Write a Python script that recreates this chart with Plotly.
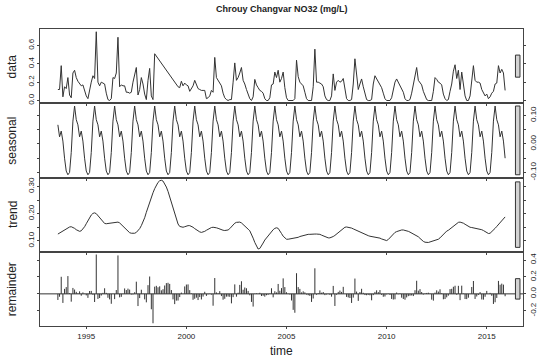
import plotly.graph_objects as go

# ---------------- data (monthly, Aug 1993 .. Dec 2015) ----------------
start_year = 1993
start_month = 8

no3 = [
    0.12, 0.12, 0.38, 0.04, 0.15,
    0.13, 0.25, 0.06, 0.03, 0.30, 0.33, 0.25, 0.21, 0.19, 0.16, 0.17, 0.10,
    0.05, 0.02, 0.12, 0.20, 0.27, 0.24, 0.75, 0.20, 0.16, 0.20, 0.19, 0.18,
    0.08, 0.01, 0.00, 0.02, 0.25, 0.24, 0.30, 0.69, 0.15, 0.17, 0.16, 0.16,
    0.09, 0.09, 0.08, 0.09, 0.20, 0.28, 0.36, 0.06, 0.12, 0.25, 0.18, 0.07,
    0.01, 0.22, 0.35, 0.05, 0.01, 0.51, 0.485, 0.46, 0.435, 0.41, 0.385, 0.36,
    0.33, 0.305, 0.28, 0.255, 0.23, 0.205, 0.18, 0.15, 0.14, 0.21, 0.16, 0.19,
    0.17, 0.16, 0.10, 0.13, 0.16, 0.22, 0.18, 0.13, 0.12, 0.11, 0.11, 0.11,
    0.02, 0.03, 0.05, 0.11, 0.09, 0.47, 0.25, 0.22, 0.20, 0.16, 0.08, 0.03,
    0.01, 0.00, 0.01, 0.01, 0.20, 0.41, 0.22, 0.25, 0.30, 0.36, 0.22, 0.18,
    0.12, 0.07, 0.02, 0.00, 0.04, 0.23, 0.17, 0.14, 0.11, 0.10, 0.08, 0.02,
    0.00, 0.00, 0.03, 0.17, 0.18, 0.31, 0.25, 0.33, 0.20, 0.24, 0.31, 0.14,
    0.03, 0.00, 0.00, 0.00, 0.00, 0.02, 0.44, 0.26, 0.20, 0.18, 0.16, 0.09,
    0.02, 0.00, 0.00, 0.00, 0.15, 0.56, 0.20, 0.20, 0.19, 0.18, 0.15, 0.05,
    0.01, 0.00, 0.00, 0.05, 0.29, 0.11, 0.20, 0.22, 0.20, 0.21, 0.24, 0.10,
    0.02, 0.00, 0.00, 0.01, 0.18, 0.455, 0.25, 0.12, 0.18, 0.235, 0.15, 0.06,
    0.01, 0.00, 0.00, 0.01, 0.18, 0.27, 0.24, 0.20, 0.18, 0.14, 0.08, 0.02,
    0.00, 0.00, 0.00, 0.03, 0.14, 0.20, 0.235, 0.20, 0.17, 0.14, 0.09, 0.02,
    0.00, 0.00, 0.01, 0.08, 0.18, 0.30, 0.36, 0.22, 0.19, 0.17, 0.10, 0.05,
    0.01, 0.00, 0.00, 0.00, 0.10, 0.25, 0.23, 0.20, 0.19, 0.17, 0.07, 0.02,
    0.00, 0.01, 0.10, 0.18, 0.32, 0.39, 0.24, 0.33, 0.12, 0.31, 0.18, 0.05,
    0.00, 0.00, 0.05, 0.20, 0.38, 0.22, 0.20, 0.20, 0.19, 0.12, 0.08, 0.05,
    0.07, 0.02, 0.04, 0.08, 0.10, 0.18, 0.19, 0.38, 0.30, 0.34, 0.30, 0.11,
]

trend = [
    0.125, 0.129, 0.133, 0.137, 0.141, 0.145, 0.148, 0.151, 0.152,
    0.150, 0.146, 0.141, 0.137, 0.135,
    0.137, 0.143, 0.152, 0.163, 0.175, 0.186, 0.195, 0.201, 0.203,
    0.200, 0.193, 0.184, 0.175, 0.168, 0.164, 0.163,
    0.164, 0.165, 0.167, 0.168, 0.169, 0.170, 0.169,
    0.166, 0.160, 0.153, 0.146, 0.140, 0.136,
    0.130, 0.128, 0.127, 0.128,
    0.131, 0.137, 0.145, 0.156, 0.168,
    0.185, 0.205, 0.225, 0.245, 0.262, 0.277,
    0.292, 0.305, 0.315, 0.321, 0.323,
    0.320, 0.311, 0.298, 0.282, 0.262,
    0.240, 0.215, 0.193, 0.175, 0.162, 0.153, 0.150,
    0.150, 0.152, 0.155, 0.156, 0.156,
    0.154, 0.150, 0.145, 0.140, 0.136, 0.133, 0.131,
    0.132, 0.135, 0.139, 0.143, 0.147, 0.149, 0.150,
    0.150, 0.148, 0.146, 0.143, 0.141, 0.139, 0.138, 0.138,
    0.140, 0.145, 0.152, 0.159, 0.165, 0.168, 0.169, 0.169,
    0.166, 0.161, 0.155, 0.149, 0.143, 0.137,
    0.125, 0.110, 0.094, 0.079, 0.070,
    0.072, 0.080, 0.092, 0.103, 0.111, 0.118,
    0.126, 0.134, 0.141, 0.146, 0.148, 0.146,
    0.138, 0.127, 0.117, 0.110, 0.106, 0.106,
    0.107, 0.108, 0.109, 0.110, 0.111, 0.113,
    0.116, 0.118, 0.120, 0.122, 0.123, 0.124,
    0.124, 0.125, 0.125, 0.125, 0.125, 0.125, 0.124,
    0.121, 0.118, 0.115, 0.112, 0.111, 0.111,
    0.113, 0.116, 0.120, 0.125, 0.130, 0.136,
    0.142, 0.147, 0.150, 0.151, 0.150, 0.149,
    0.147, 0.144, 0.141, 0.138, 0.136, 0.133,
    0.130, 0.127, 0.124, 0.121, 0.119, 0.117,
    0.116, 0.115, 0.114, 0.113, 0.112, 0.110,
    0.107, 0.104, 0.101, 0.101, 0.105, 0.112,
    0.120, 0.127, 0.131, 0.134, 0.137, 0.139,
    0.140, 0.140, 0.139, 0.137, 0.135, 0.132,
    0.129, 0.126, 0.124, 0.120, 0.115, 0.109,
    0.103, 0.098, 0.095, 0.094, 0.094, 0.096,
    0.098, 0.100, 0.102, 0.103, 0.106, 0.111,
    0.117, 0.124, 0.131, 0.136, 0.139, 0.144,
    0.150, 0.156, 0.161, 0.165, 0.168, 0.169,
    0.168, 0.165, 0.161, 0.157, 0.153, 0.150,
    0.149, 0.148, 0.147, 0.146, 0.145, 0.144,
    0.141, 0.138, 0.134, 0.130, 0.127, 0.128,
    0.133, 0.139, 0.146, 0.153, 0.160, 0.167, 0.174, 0.181, 0.188,
]

# seasonal component, Jan..Dec
seasonal_cycle = [-0.095, -0.108, -0.100, -0.030, 0.080, 0.133,
                  0.085, 0.067, 0.025, 0.045, 0.010, -0.050]

panel_names = ["data", "seasonal", "trend", "remainder"]
year_ticks = [1995, 2000, 2005, 2010, 2015]
data_ticks = [0.0, 0.2, 0.4, 0.6]
data_ticklabels = ["0.0", "0.2", "0.4", "0.6"]
seasonal_ticks = [-0.10, -0.05, 0.0, 0.05, 0.10]
seasonal_ticklabels = ["-0.10", "", "0.00", "", "0.10"]
trend_ticks = [0.10, 0.15, 0.20, 0.25, 0.30]
trend_ticklabels = ["0.10", "", "0.20", "", "0.30"]
remainder_ticks = [-0.2, 0.0, 0.2, 0.4]
remainder_ticklabels = ["-0.2", "0.0", "0.2", "0.4"]
title_text = "Chrouy Changvar NO32 (mg/L)"

# ---------------- derived series ----------------
n = min(len(no3), len(trend))
time = [start_year + (start_month - 1 + i) / 12.0 for i in range(n)]
seasonal = [seasonal_cycle[(start_month - 1 + i) % 12] for i in range(n)]
data = no3[:n]
trd = trend[:n]
remainder = [data[i] - trd[i] - seasonal[i] for i in range(n)]

series = [data, seasonal, trd, remainder]
ticks = [(data_ticks, data_ticklabels), (seasonal_ticks, seasonal_ticklabels),
         (trend_ticks, trend_ticklabels), (remainder_ticks, remainder_ticklabels)]

t0, t1 = time[0], time[-1]
xpad = 0.04 * (t1 - t0)
xlim = [t0 - xpad, t1 + xpad]

LINE = "#333333"
AX = "#444444"
TXT = "#222222"
FONT = "Liberation Sans, Arial, sans-serif"

W, H = 550, 360
ML, MR, MT, MB = 40, 22, 29, 34
PW, PH = W - ML - MR, H - MT - MB

fig = go.Figure()
layout = dict(
    width=W, height=H,
    margin=dict(l=ML, r=MR, t=MT, b=MB, pad=0),
    paper_bgcolor="white", plot_bgcolor="white",
    showlegend=False,
    font=dict(family=FONT, size=8, color=TXT),
)

domains = [[0.75, 1.0], [0.5, 0.75], [0.25, 0.5], [0.0, 0.25]]
ranges = [(min(s), max(s)) for s in series]
mx = min(hi - lo for lo, hi in ranges)
dx = (xlim[1] - xlim[0]) / 64.0

shapes = []
annotations = []
for k, s in enumerate(series):
    idx = k + 1
    xa = "x" if idx == 1 else f"x{idx}"
    ya = "y" if idx == 1 else f"y{idx}"
    lo, hi = ranges[k]
    ypad = 0.04 * (hi - lo)
    if k < 3:
        fig.add_trace(go.Scatter(x=time, y=s, mode="lines", xaxis=xa, yaxis=ya,
                                 line=dict(color=LINE, width=1), hoverinfo="skip"))
    else:
        xs, ys = [], []
        for t, v in zip(time, s):
            xs += [t, t, None]
            ys += [0.0, v, None]
        fig.add_trace(go.Scatter(x=xs, y=ys, mode="lines", xaxis=xa, yaxis=ya,
                                 line=dict(color=LINE, width=1), hoverinfo="skip"))
        shapes.append(dict(type="line", xref=f"{xa} domain", yref=ya, x0=0, x1=1,
                           y0=0, y1=0, line=dict(color=LINE, width=1)))
    # range bar
    ymid = (lo + hi) / 2.0
    shapes.append(dict(type="rect", xref=xa, yref=ya,
                       x0=xlim[1] - dx, x1=xlim[1] - 0.4 * dx,
                       y0=ymid - mx / 2, y1=ymid + mx / 2,
                       fillcolor="#d3d3d3", line=dict(color=LINE, width=1)))
    right = (k % 2 == 1)
    layout["xaxis" if idx == 1 else f"xaxis{idx}"] = dict(
        domain=[0, 1], anchor=ya, range=xlim, showgrid=False, zeroline=False,
        showline=True, linecolor=AX, linewidth=1, mirror=True,
        ticks="outside", ticklen=2, tickcolor=AX, tickvals=year_ticks,
        ticktext=[str(y) for y in year_ticks], showticklabels=(k == 3),
        tickfont=dict(size=8, family=FONT, color=TXT),
        matches=None if idx == 1 else "x",
    )
    tv, tt = ticks[k]
    layout["yaxis" if idx == 1 else f"yaxis{idx}"] = dict(
        domain=domains[k], anchor=xa, range=[lo - ypad, hi + ypad],
        showgrid=False, zeroline=False, showline=True, linecolor=AX, linewidth=1,
        mirror="ticks", ticks="outside", ticklen=2, tickcolor=AX,
        tickvals=tv, ticktext=tt, tickangle=-90, side="right" if right else "left",
        tickfont=dict(size=8, family=FONT, color=TXT),
    )
    annotations.append(dict(text=panel_names[k], xref="paper", yref="paper",
                            x=(12 - ML) / PW, y=sum(domains[k]) / 2.0,
                            xanchor="center", yanchor="middle", textangle=-90,
                            showarrow=False, font=dict(size=12, family=FONT, color=TXT)))

annotations.append(dict(text="time", xref="paper", yref="paper", x=0.5,
                        y=-(351 - (H - MB)) / PH, xanchor="center", yanchor="middle",
                        showarrow=False, font=dict(size=12, family=FONT, color=TXT)))
annotations.append(dict(text="<b>" + title_text + "</b>", xref="paper", yref="paper",
                        x=0.5, y=1.0 + (MT - 9) / PH, xanchor="center",
                        yanchor="middle", showarrow=False,
                        font=dict(size=9, family=FONT, color=TXT)))

layout["shapes"] = shapes
layout["annotations"] = annotations
fig.update_layout(**layout)
fig.write_html("out.html", config={"displayModeBar": False, "staticPlot": True},
               post_script="document.body.style.margin='0px';")
